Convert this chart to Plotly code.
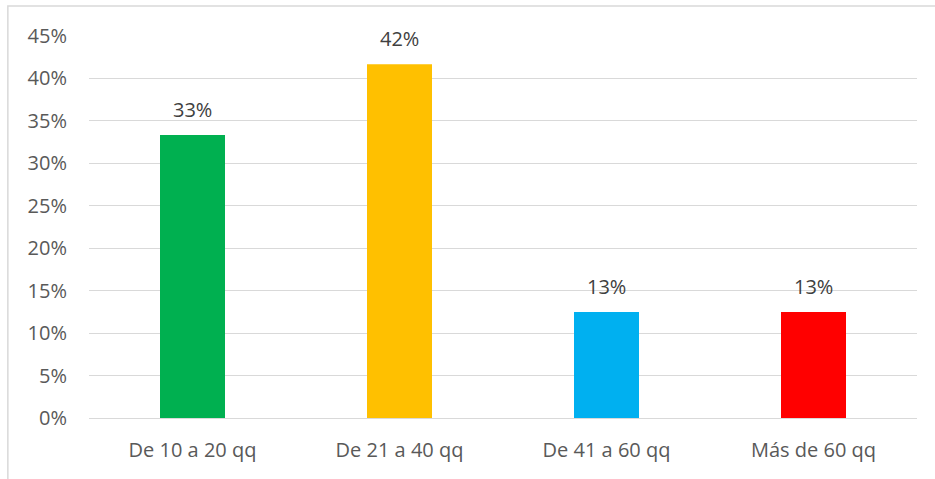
import plotly.graph_objects as go

# Distribución por rango de producción
categorias = ["De 10 a 20 qq", "De 21 a 40 qq", "De 41 a 60 qq", "Más de 60 qq"]
porcentajes = [0.3333, 0.4167, 0.125, 0.125]
colores = ["#00B050", "#FFC000", "#00B0F0", "#FF0000"]
ticks_y = [0, 0.05, 0.10, 0.15, 0.20, 0.25, 0.30, 0.35, 0.40, 0.45]
ticks_y_texto = ["0%", "5%", "10%", "15%", "20%", "25%", "30%", "35%", "40%", "45%"]

texto = "#595959"
fuente = "Open Sans"
tam = 20

fig = go.Figure(
    go.Bar(
        x=categorias,
        y=porcentajes,
        marker=dict(color=colores, line=dict(width=0)),
        width=0.314,
        hoverinfo="skip",
    )
)

# Etiquetas de valor sobre cada barra
for cat, val in zip(categorias, porcentajes):
    fig.add_annotation(
        x=cat, y=val, text=f"{round(val * 100 + 1e-9):.0f}%",
        showarrow=False, yanchor="bottom", yshift=10,
        font=dict(family=fuente, size=tam, color="#404040"),
    )

fig.update_layout(
    width=935, height=479,
    margin=dict(l=89, r=18, t=36, b=61),
    paper_bgcolor="white", plot_bgcolor="white",
    showlegend=False,
    font=dict(family=fuente, size=tam, color=texto),
    xaxis=dict(showgrid=False, showline=True, linecolor="#D9D9D9", linewidth=1,
               ticks="", ticklabelstandoff=14,
               tickfont=dict(size=tam, color=texto), fixedrange=True),
    yaxis=dict(range=[0, 0.45], tickvals=ticks_y, ticktext=ticks_y_texto,
               showgrid=True, gridcolor="#D9D9D9", gridwidth=1, zeroline=False,
               showline=False, ticks="", ticklen=0, ticklabelstandoff=21,
               tickfont=dict(size=tam, color=texto), fixedrange=True),
    shapes=[dict(type="rect", xref="paper", yref="paper",
                 x0=-0.098, x1=1.05, y0=-0.2, y1=1.0785,
                 line=dict(color="#D9D9D9", width=1.5), fillcolor="rgba(0,0,0,0)",
                 layer="below")],
)

fig.write_html("out.html")
